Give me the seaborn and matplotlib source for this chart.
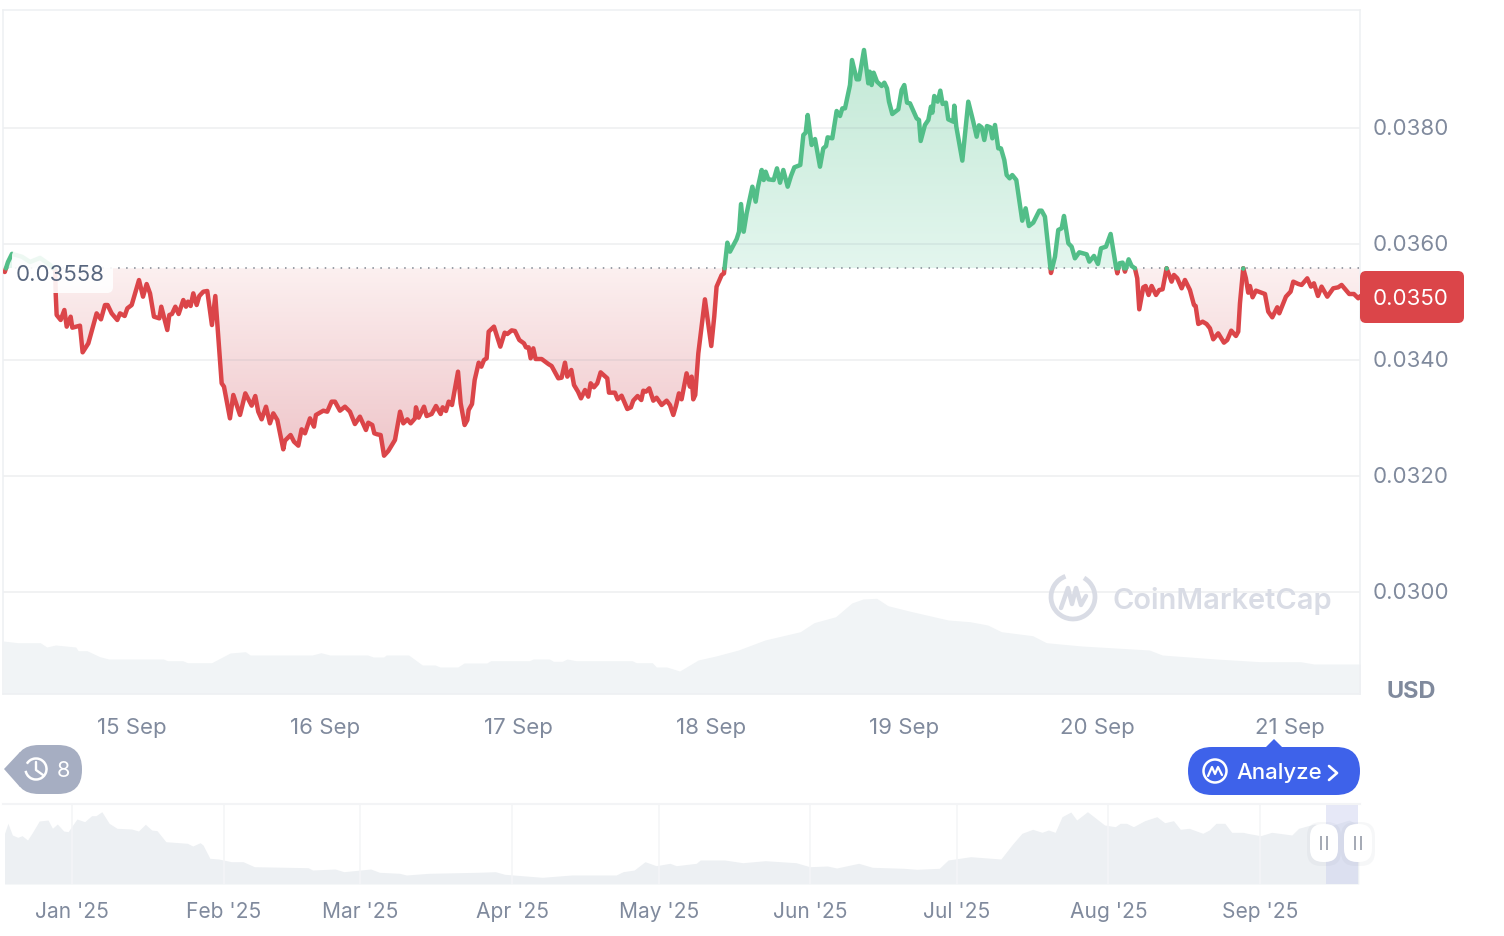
import numpy as np
import pandas as pd
import matplotlib
matplotlib.use('Agg')
import matplotlib.pyplot as plt
from matplotlib.patches import FancyBboxPatch, Circle, Polygon, Rectangle, Arc
from matplotlib.transforms import ScaledTranslation
import seaborn as sns

W, H = 1504, 936
BASE = 0.03558

# hours since 15 Sep 00:00
hours = [
    -15.82, -15.42, -14.92, -13.68, -12.68, -11.44, -10.2, -9.54,
    -9.49, -9.37, -8.87, -8.41, -8.12, -7.63, -7.42, -6.47, -6.14, -5.43, -4.40, -3.86, -3.36, -3.03, -2.53, -1.83,
    -1.49, -0.91, -0.58, -0.04, 0.87, 1.37, 1.82, 2.24, 2.73, 3.40, 3.64, 4.39, 4.64, 4.97, 5.39, 5.80, 6.38, 6.71,
    6.96, 7.29, 7.62, 8.04, 8.37, 8.87, 9.36, 9.94, 10.36, 10.73, 11.15, 11.44, 12.18, 12.60, 13.43, 14.09, 14.88,
    15.33, 15.70, 16.12, 16.66, 17.15, 17.57, 18.07, 18.81, 19.02, 19.72, 20.14, 20.68, 21.09, 21.51, 22.13, 22.63,
    22.87, 23.79, 24.28, 24.82, 25.24, 25.86, 26.48, 27.10, 27.72, 28.34, 29.09, 29.38, 29.88, 30.13, 30.50,
    30.92, 31.34, 31.87, 32.70, 33.33, 33.74, 34.24, 34.65, 35.19, 35.31, 35.65, 36.31, 36.64, 37.26, 37.80, 38.38,
    38.63, 39.04, 39.38, 39.79, 40.54, 40.87, 41.36, 41.70, 41.86, 42.28, 42.61, 43.11, 43.44, 43.77, 44.10, 44.35,
    45.01, 45.80, 46.34, 46.67, 47.21, 47.62, 48.16, 48.74, 48.99, 49.32, 49.57, 49.90, 50.19, 50.94, 51.77, 52.18,
    53.01, 53.42, 53.84, 54.13, 54.63, 54.96, 55.46, 55.83, 56.33, 56.74, 57.03, 57.44, 57.86, 58.27, 59.10, 59.31,
    60.05, 60.39, 60.88, 61.59, 62.04, 62.33, 62.87, 63.33, 63.58, 63.91, 64.32, 64.82, 65.23, 65.86, 66.48, 66.89,
    67.31, 67.64, 68.01, 68.34, 68.96, 69.38, 69.59, 69.79, 70.04, 70.42, 71.24, 72.03, 72.40, 72.69, 73.32, 73.61,
    74.03, 74.36, 75.19, 75.48, 75.73, 76.06, 76.43, 77.14, 77.55, 77.80, 78.30, 78.55, 78.79, 79.13, 79.79, 80.20,
    80.58, 80.99, 81.53, 81.94, 82.36, 83.10, 83.48, 83.77, 84.02, 84.51, 84.93, 85.55, 85.96, 86.30, 86.50, 87.08,
    87.62, 88.04, 88.33, 88.66, 89.28, 89.53, 90.11, 90.40, 91.02, 91.56, 91.73, 91.97, 92.22, 92.64, 93.22, 93.55,
    93.88, 94.13, 94.54, 95.29, 95.70, 96.03, 96.37, 96.74, 97.57, 97.86, 98.07, 98.60, 99.02, 99.35, 99.52, 99.76,
    100.18, 100.51, 100.80, 101.21, 101.50, 102.13, 102.25, 102.50, 103.25, 103.99, 104.61, 105.03, 105.32, 105.65,
    105.98, 106.31, 106.73, 106.98, 107.31, 107.72, 108.05, 108.47, 108.76, 109.13, 109.46, 109.96, 110.70, 111.12,
    111.53, 112.07, 112.82, 113.11, 113.52, 114.27, 114.77,
    115.18, 115.60, 115.89, 116.43, 116.84, 117.25, 117.79, 118.71, 119.04, 119.62, 120.11, 120.49, 121.11, 121.69,
    122.35, 122.52, 122.77, 123.18, 123.47, 123.93, 124.30, 124.71, 125.00, 125.25, 125.75, 126.04, 126.41, 126.79,
    127.33, 127.74, 128.15, 128.65, 129.27, 129.56, 129.98, 130.52, 130.93, 131.55, 132.05, 132.26, 132.59, 133.13,
    133.62, 134.04, 134.45, 135.07, 135.78, 136.19, 136.69, 137.27, 137.56, 137.77, 138.18, 138.51, 138.80, 139.01,
    139.34, 139.76, 140.88, 141.29, 141.79, 142.41, 142.66, 143.49, 144.07, 144.40, 145.02, 145.44, 146.14, 146.60,
    146.97, 147.47, 147.92, 148.63, 149.37, 149.99, 150.41, 151.36, 151.94, 152.48, 152.77,
]
price = [
    35.517, 35.69, 35.83, 35.78, 35.69, 35.76, 35.64, 35.55,
    35.149, 34.776, 34.690, 34.862, 34.575, 34.747, 34.557, 34.592, 34.132, 34.287, 34.804, 34.701, 34.948, 34.948, 34.804, 34.690,
    34.804, 34.759, 34.891, 34.948, 35.379, 35.092, 35.310, 35.149, 34.747, 34.718, 34.919, 34.517, 34.776, 34.793, 34.919, 34.793, 35.034, 34.919,
    35.006, 34.931, 35.149, 34.948, 35.103, 35.178, 35.190, 34.603, 35.103, 34.402, 33.598, 33.540, 32.994, 33.397, 33.052, 33.425, 33.213,
    33.379, 33.109, 32.977, 33.195, 32.908, 33.080, 32.965, 32.460, 32.609, 32.707, 32.592, 32.523, 32.805, 32.736, 32.994, 32.851,
    33.052, 33.126, 33.109, 33.282, 33.282, 33.126, 33.195, 33.109, 32.896, 33.023, 32.793, 32.919, 32.879, 32.736, 32.718,
    32.707, 32.350, 32.431, 32.621, 33.109, 32.908, 32.977, 32.908, 32.994, 33.184, 33.006, 33.195, 33.034, 33.069, 33.207, 33.069,
    33.184, 33.121, 33.282, 33.224, 33.799, 33.253, 32.879, 32.965, 33.138, 33.241, 33.655, 33.954, 33.885, 34.000, 34.029, 34.488,
    34.575, 34.230, 34.471, 34.448, 34.511, 34.500, 34.345, 34.287, 34.218, 34.218, 34.029, 34.201, 34.017, 34.017, 33.931, 33.896,
    33.684, 33.695, 33.954, 33.713, 33.828, 33.569, 33.454, 33.339, 33.483, 33.368, 33.598, 33.529, 33.598, 33.787, 33.684, 33.437,
    33.437, 33.322, 33.385, 33.155, 33.184, 33.299, 33.379, 33.310, 33.471, 33.454, 33.511, 33.299, 33.350, 33.224, 33.299, 33.224,
    33.052, 33.207, 33.425, 33.322, 33.770, 33.540, 33.713, 33.322, 33.397, 34.115, 35.046, 34.241, 34.747, 35.264, 35.465, 35.494,
    36.023, 35.868, 36.086, 36.212, 36.689, 36.212, 36.529, 36.988, 36.730, 36.960, 37.276, 37.103, 37.247, 37.115, 37.103, 37.304,
    37.057, 37.276, 36.988, 37.172, 37.322, 37.362, 37.879, 37.919, 38.224, 37.707, 37.810, 37.333, 37.649, 37.689, 37.839, 37.822,
    38.293, 38.207, 38.339, 38.339, 38.741, 39.172, 38.839, 38.839, 39.345, 38.770, 38.971, 38.741, 38.954, 38.799, 38.724, 38.781,
    38.684, 38.454, 38.241, 38.322, 38.655, 38.741, 38.437, 38.425, 38.166, 38.138, 37.776, 38.052, 38.138, 38.368, 38.264, 38.552,
    38.454, 38.644, 38.414, 38.437, 38.149, 38.109, 38.385, 38.023, 37.437, 38.454, 38.109, 37.850, 38.046, 38.011,
    37.793, 38.034, 38.011, 37.822, 38.052, 37.649, 37.649, 37.448, 37.189, 37.132, 37.189, 37.103, 36.402, 36.615,
    36.310, 36.368, 36.575, 36.575, 36.471, 35.500, 35.781,
    36.242, 36.271, 36.483, 36.012, 35.954, 35.753, 35.857, 35.822, 35.696, 35.794, 35.656, 35.926, 35.954, 36.173,
    35.610, 35.495, 35.667, 35.679, 35.523, 35.736, 35.621, 35.581, 35.408, 34.874, 35.253, 35.276, 35.121, 35.276,
    35.121, 35.207, 35.219, 35.581, 35.351, 35.466, 35.408, 35.236, 35.380, 35.207, 34.949, 34.931, 34.621, 34.661,
    34.621, 34.546, 34.357, 34.460, 34.299, 34.345, 34.506, 34.414, 34.489, 34.977, 35.581, 35.408, 35.161, 35.276,
    35.081, 35.196, 35.138, 34.834, 34.736, 34.909, 34.805, 35.092, 35.179, 35.351, 35.311, 35.294, 35.408, 35.265,
    35.322, 35.104, 35.265, 35.092, 35.236, 35.253, 35.294, 35.138, 35.138, 35.064, 35.104,
]
price = [p / 1000 for p in price]

volume_hours = [
    -16.0, -14.2, -11.4, -10.6, -9.5, -7.0, -6.7, -5.6, -4.0, -2.9, 3.9, 4.4, 6.3, 6.9, 9.9, 12.2, 14.1, 14.7, 22.4,
    23.5, 24.6, 29.3, 30.0, 31.3, 31.6, 34.4, 36.1, 37.7, 38.3, 40.5, 41.3, 44.1, 44.6, 49.4, 49.9, 51.9, 52.4, 53.5,
    54.1, 55.2, 62.2, 62.7, 64.7, 65.2, 66.5, 68.1, 70.4, 72.6, 75.4, 78.7, 83.1, 84.8, 87.5, 89.5, 90.9, 92.6, 94.0,
    97.0, 101.5, 104.2, 106.4, 108.1, 112.0, 113.7, 118.1, 126.5, 128.1, 134.8, 140.3, 145.3, 147.0, 152.8,
]
volume = [
    53, 51.3, 51.3, 47, 49, 47, 43.3, 43.3, 37.3, 35, 35, 33.3, 33.3, 31.3, 31.3, 41, 42.3, 39, 39,
    41.3, 39, 39, 37, 37, 39, 39, 29, 29, 27, 27, 31, 31, 33.3, 33.3, 35, 35, 32.7, 32.7,
    35, 33.3, 33.3, 31.3, 31.3, 27, 27, 23, 34, 38, 44, 54, 62.3, 71.3, 77.3, 91, 95, 95.7, 88.3,
    82.3, 74, 72.3, 69, 62.3, 58.3, 51.3, 48, 44, 39, 35, 32.3, 32.3, 30, 30,
]

# overview strip: days since 1 Jan 2025
overview_days = [
    -13.8, -13.1, -12.2, -11.1, -10.2, -9.1, -8.2, -6.7, -4.9, -4.0, -3.0, -1.7, -0.8, 1.0, 2.6, 4.0, 4.9, 6.1, 7.6,
    9.2, 12.2, 13.6, 15.0, 16.3, 17.4, 19.2, 23.6, 24.7, 26.2, 26.8, 28.2, 30.0, 32.6, 35.0, 37.3, 48.3, 49.2, 53.8,
    55.6, 61.1, 62.9, 67.0, 68.4, 73.0, 83.0, 86.6, 88.5, 96.2, 102.2, 111.3, 112.7, 115.0, 117.2, 119.5, 122.3, 123.6,
    127.7, 128.5, 133.5, 137.2, 141.8, 148.1, 150.9, 154.5, 156.4, 160.9, 163.7, 170.1, 172.8, 177.4, 179.2, 183.8,
    190.0, 192.4, 194.3, 196.5, 198.4, 199.7, 201.1, 202.5, 204.3, 205.5, 207.7, 211.2, 213.4, 214.4, 215.7, 217.1,
    219.4, 221.9, 223.5, 225.3, 226.7, 228.5, 231.3, 232.6, 234.0, 235.8, 237.2, 239.5, 240.4, 243.1, 245.4, 249.5,
    250.9, 254.1, 256.8, 261.2, 263.2,
]
overview_level = [
    50.7, 60.7, 49, 46.7, 48.3, 44, 50.7, 63, 64, 55.7, 60, 53, 52.3, 65, 62.3, 68.3, 68.3, 72.3, 60.7,
    55.7, 55, 53, 59.7, 54, 53.3, 42.3, 40.7, 38, 41.3, 39, 25.7, 25, 22.3, 22.3, 17.3, 16.3, 14, 15,
    12.3, 15, 11.7, 10.7, 9, 10.7, 11.7, 12.3, 9.7, 6.7, 9, 9, 12.3, 14, 22.3, 18.3, 20.7, 18.3,
    20.7, 24, 24, 21.3, 23.3, 21.3, 17.3, 18, 16, 20.7, 16.7, 15.7, 14.7, 15.7, 24, 27.3,
    25, 40, 50.7, 54.7, 51.7, 54, 51.7, 67.3, 72, 64, 72.3, 59, 57.3, 60.7, 60.7, 57.3,
    63.3, 67.3, 61.3, 63.3, 54.7, 55.7, 50.7, 54, 60.7, 60.7, 51.7, 51.7, 50.7, 48.3, 51.7, 49,
    55.7, 60, 57.3, 64, 59,
]

price_ticks = [0.0300, 0.0320, 0.0340, 0.0360, 0.0380]
day_labels = ['15 Sep', '16 Sep', '17 Sep', '18 Sep', '19 Sep', '20 Sep', '21 Sep']
day_hours = [0, 24, 48, 72, 96, 120, 144]
month_labels = ["Jan '25", "Feb '25", "Mar '25", "Apr '25", "May '25", "Jun '25", "Jul '25", "Aug '25", "Sep '25"]
month_days = [0, 31, 59, 90, 120, 151, 181, 212, 243]

RED = '#DB4549'
GREEN = '#52BE88'
GREY = '#808A9D'
GRID = '#EEF0F3'
FS = 16.0


def split_runs(xs, ys, base):
    # insert the crossings with the base line so each side gets its own run
    rows = []
    run = 0
    for i in range(len(xs)):
        if i > 0 and (ys[i - 1] - base) * (ys[i] - base) < 0:
            t = (base - ys[i - 1]) / (ys[i] - ys[i - 1])
            xc = xs[i - 1] + t * (xs[i] - xs[i - 1])
            side = 'up' if ys[i - 1] > base else 'down'
            rows.append((xc, base, side, run))
            run += 1
            rows.append((xc, base, 'up' if side == 'down' else 'down', run))
        rows.append((xs[i], ys[i], 'up' if ys[i] >= base else 'down', run))
    return pd.DataFrame(rows, columns=['hour', 'price', 'side', 'run'])


def px_axes(fig, left, top, right, bottom):
    return fig.add_axes([left / W, 1 - bottom / H, (right - left) / W, (bottom - top) / H])


def gradient(ax, frame, y_top, y_bottom, c_top, c_bottom, which):
    if which == 'up':
        edge = np.maximum(frame['price'], BASE)
    else:
        edge = np.minimum(frame['price'], BASE)
    poly = ax.fill_between(frame['hour'], edge, BASE, facecolor='none', edgecolor='none')
    mix = np.linspace(0, 1, 256)[:, None, None]
    top = np.array(matplotlib.colors.to_rgb(c_top))[None, None, :]
    bottom = np.array(matplotlib.colors.to_rgb(c_bottom))[None, None, :]
    # first image row is y_bottom because origin is lower
    img = bottom * (1 - mix) + top * mix
    im = ax.imshow(img, extent=[frame['hour'].min(), frame['hour'].max(), y_bottom, y_top],
                   origin='lower', aspect='auto', zorder=1, interpolation='bilinear')
    im.set_clip_path(poly.get_paths()[0], transform=ax.transData)


sns.set_theme(style='white')
plt.rcParams['font.family'] = ['Inter', 'DejaVu Sans']

fig = plt.figure(figsize=(W / 100, H / 100), dpi=100, facecolor='white')

# volume sits behind the price panel
ax_vol = px_axes(fig, 3, 594, 1360, 694)
ax_vol.fill_between(volume_hours, volume, 0, color='#F1F4F6', lw=0)
ax_vol.set_xlim((3 - 132) / 8.042, (1360 - 132) / 8.042)
ax_vol.set_ylim(0, 100)
ax_vol.axis('off')
ax_vol.set_zorder(0)

ax = px_axes(fig, 3, 10, 1360, 694)
ax.set_zorder(1)
ax.patch.set_alpha(0)

df = split_runs(hours, price, BASE)
gradient(ax, df, 0.03935, BASE, '#C3E9D6', '#E3F6EE', 'up')
gradient(ax, df, BASE, 0.0324, '#FCF0F0', '#EFC6CA', 'down')

ax.hlines(price_ticks, -20, 160, color='#88929F', alpha=0.14, lw=1.2, zorder=2)
ax.plot([-20, 160], [BASE, BASE], color='#7F8590', lw=1.1, ls=(0, (1, 4.2)), zorder=3)

sns.lineplot(data=df, x='hour', y='price', hue='side', units='run', estimator=None, sort=False,
             palette={'up': GREEN, 'down': RED}, legend=False, linewidth=3.2, ax=ax, zorder=4,
             solid_joinstyle='round', solid_capstyle='round')

ax.set_xlim((3 - 132) / 8.042, (1360 - 132) / 8.042)
ax.set_ylim(0.0380 - (694 - 128) * 0.002 / 116, 0.0380 + (128 - 10) * 0.002 / 116)
ax.set_xlabel('')
ax.set_ylabel('')
ax.yaxis.tick_right()
ax.set_yticks(price_ticks)
ax.set_yticklabels([f'{v:.4f}' for v in price_ticks])
ax.set_xticks(day_hours)
ax.set_xticklabels(day_labels)
ax.tick_params(axis='y', length=0, pad=9, labelsize=FS, labelcolor=GREY)
ax.tick_params(axis='x', length=0, pad=17.5, labelsize=FS, labelcolor=GREY)
for lab in ax.get_yticklabels():
    lab.set_transform(lab.get_transform() + ScaledTranslation(0, 1 / 100, fig.dpi_scale_trans))
for s in ax.spines.values():
    s.set_color(GRID)
    s.set_linewidth(1.1)

# overview strip
ax_nav = px_axes(fig, 3, 804, 1360, 884)
ax_nav.fill_between(overview_days, overview_level, 0, color='#EDF0F3', lw=0)
ax_nav.vlines(month_days, 0, 80, color='#F4F5F7', lw=1.1)
ax_nav.axvspan((1326 - 72) / 4.889, (1358 - 72) / 4.889, color='#C9CEEE', alpha=0.45, lw=0)
ax_nav.set_xlim((3 - 72) / 4.889, (1360 - 72) / 4.889)
ax_nav.set_ylim(0, 80)
ax_nav.set_yticks([])
ax_nav.set_xticks(month_days)
ax_nav.set_xticklabels(month_labels)
ax_nav.tick_params(axis='x', length=0, pad=12.6, labelsize=15.1, labelcolor=GREY)
for name, s in ax_nav.spines.items():
    s.set_visible(name == 'top')
    s.set_color('#F3F4F6')
    s.set_linewidth(1.5)

# widgets on top, in pixel coordinates
ui = fig.add_axes([0, 0, 1, 1])
ui.set_xlim(0, W)
ui.set_ylim(H, 0)
ui.axis('off')
ui.set_zorder(5)
ui.patch.set_alpha(0)


def pill(x0, y0, x1, y1, r, color, **kw):
    p = FancyBboxPatch((x0 + r, y0 + r), x1 - x0 - 2 * r, y1 - y0 - 2 * r,
                       boxstyle=f'round,pad={r},rounding_size={r}', fc=color, ec='none', **kw)
    ui.add_patch(p)
    return p


# start price label
pill(12, 250, 113, 293, 6, 'white', alpha=0.9)
ui.text(16, 275, '0.03558', fontsize=FS, color='#58667E', va='center', ha='left')

# current price
ui.add_patch(FancyBboxPatch((1366, 277), 92, 40, boxstyle='round,pad=6,rounding_size=6', fc=RED, ec='none'))
ui.text(1373, 299, '0.0350', fontsize=FS, color='white', va='center', ha='left')

ui.text(1411, 692, 'USD', fontsize=17, color=GREY, va='center', ha='center', fontweight='bold')

# watermark
WM = '#D9DCE5'
ui.add_patch(Arc((1073, 597), 44, 44, theta1=-60, theta2=250, ec=WM, lw=3.4))
ui.plot([1061, 1068, 1072, 1076, 1081, 1086], [608, 588, 604, 588, 605, 596], color=WM, lw=3.2, solid_joinstyle='round')
ui.text(1112, 601, 'CoinMarketCap', fontsize=20.9, color=WM, va='center', ha='left', fontweight='semibold')

# analyze button
BLUE = '#3E62EA'
pill(1188, 747, 1360, 795, 24, BLUE)
ui.add_patch(Polygon([[1265, 748], [1274, 739], [1283, 748]], fc=BLUE, ec='none'))
ui.add_patch(Circle((1215, 771), 11.5, fc='none', ec='white', lw=1.8))
ui.plot([1208, 1212, 1215, 1218, 1222], [776, 767, 774, 767, 775], color='white', lw=1.6)
ui.text(1236, 773, 'Analyze', fontsize=16.0, color='white', va='center', ha='left', fontweight='medium')
ui.plot([1329, 1337, 1329], [766, 773, 780], color='white', lw=1.9, solid_capstyle='round')

# history badge
BADGE = '#A6AEC2'
pill(15, 745, 82, 794, 24, BADGE)
ui.add_patch(Polygon([[4, 769], [20, 752], [20, 787]], fc=BADGE, ec='none'))
ui.add_patch(Arc((36, 769), 21, 21, theta1=-150, theta2=170, ec='white', lw=1.8))
ui.plot([36, 36, 43], [762, 770, 775], color='white', lw=1.7)
ui.text(63, 771, '8', fontsize=15.6, color='white', va='center', ha='center')

# range handles
for cx in (1324, 1358):
    pill(cx - 17, 822, cx + 17, 866, 14, '#8A93A8', alpha=0.07)
    pill(cx - 14, 824, cx + 14, 862, 13, 'white')
    ui.add_patch(Rectangle((cx - 4, 836), 2, 14, fc='#A6ABB6', ec='none'))
    ui.add_patch(Rectangle((cx + 2, 836), 2, 14, fc='#A6ABB6', ec='none'))

fig.savefig('out.png', dpi=100)
